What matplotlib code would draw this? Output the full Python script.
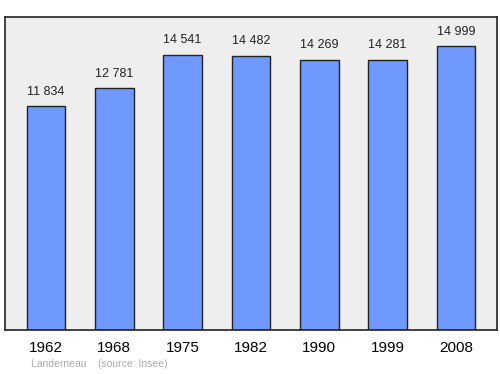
import matplotlib
matplotlib.use('Agg')
import matplotlib.pyplot as plt

plt.rcParams['font.family'] = ['Liberation Sans', 'DejaVu Sans']

years = ['1962', '1968', '1975', '1982', '1990', '1999', '2008']
population = [11834, 12781, 14541, 14482, 14269, 14281, 14999]
labels = ['11 834', '12 781', '14 541', '14 482', '14 269', '14 281', '14 999']

fig = plt.figure(figsize=(5, 3.74), dpi=100)
ax = fig.add_axes([0.01, 0.1176, 0.984, 0.837])
ax.set_facecolor('#eeeeee')

x = range(len(years))
ax.bar(x, population, width=0.57, color='#7099ff', edgecolor='#222222', linewidth=1)

for i, v in enumerate(population):
    ax.annotate(labels[i], (i, v), xytext=(0, 6), textcoords='offset points',
                ha='center', va='bottom', fontsize=9, color='#222222')

ax.set_xlim(-0.6, 6.6)
ax.set_ylim(0, 16530)
ax.set_yticks([])
ax.set_xticks(list(x))
ax.set_xticklabels(years, fontsize=11)
ax.tick_params(axis='x', length=0, pad=8)
for s in ax.spines.values():
    s.set_color('#222222')
    s.set_linewidth(1.2)

fig.text(0.062, 0.02, 'Landerneau    (source: Insee)', fontsize=7.5, color='#aaaaaa')

plt.savefig('out.png')
